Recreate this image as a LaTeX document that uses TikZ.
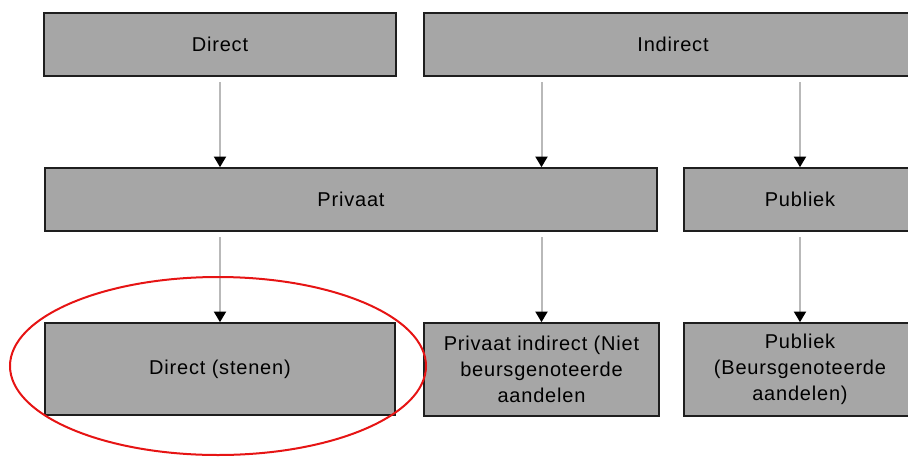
\documentclass[tikz,border=0pt]{standalone}
\usepackage{fontspec}
\setmainfont{Liberation Sans}[LetterSpace=4]
\usetikzlibrary{arrows.meta}
\definecolor{BoxGray}{RGB}{166, 166, 166}
\definecolor{EdgeDark}{RGB}{30, 30, 30}
\definecolor{LineGray}{RGB}{185, 185, 185}
\definecolor{MarkRed}{RGB}{230, 20, 20}

\begin{document}
\begin{tikzpicture}[x=0.75pt, y=-0.75pt,
    box/.style={draw=EdgeDark, line width=1.2pt, fill=BoxGray, inner sep=0pt, align=center,
                font=\fontsize{15}{19.5}\selectfont},
    arr/.style={draw=LineGray, line width=1.5pt, shorten <=4pt,
                -{Triangle[color=black, length=8pt, width=9pt]}}]
            \useasboundingbox (0,0) rectangle (908,458);
            \clip (0,0) rectangle (908,458);
            % Top row
            \node[box, minimum width=352*0.75pt, minimum height=63*0.75pt] (direct) at (220,44.5) {Direct};
            \node[box, minimum width=498*0.75pt, minimum height=63*0.75pt] (indirect) at (673,44.5) {Indirect};
            % Middle row
            \node[box, minimum width=612*0.75pt, minimum height=63*0.75pt] (privaat) at (351,199.5) {Privaat};
            \node[box, minimum width=232*0.75pt, minimum height=63*0.75pt] (publiek) at (800,199.5) {Publiek};
            
            % Bottom row
            \node[box, minimum width=350*0.75pt, minimum height=92*0.75pt] (stenen) at (220,369) {Direct (stenen)};
            \node[box, minimum width=235*0.75pt, minimum height=93*0.75pt] (privind) at (541.5,369.5) {Privaat indirect (Niet\\beursgenoteerde\\aandelen};
            \node[box, minimum width=232*0.75pt, minimum height=93*0.75pt] (publiekb) at (800,369.5) {Publiek\\(Beursgenoteerde\\aandelen)};
            
            % Arrows
            \draw[arr] (direct.south) -- (direct.south |- privaat.north);
            \draw[arr] (indirect.south -| privind) -- (privaat.north -| privind);
            \draw[arr] (indirect.south -| publiek) -- (publiek.north);
            \draw[arr] (privaat.south -| stenen) -- (stenen.north);
            \draw[arr] (privaat.south -| privind) -- (privind.north);
            \draw[arr] (publiek.south) -- (publiekb.north);
            
            % Highlight
            \draw[MarkRed, line width=1.5pt] ([xshift=-1.5pt,yshift=2.25pt]stenen.center) ellipse [x radius=208, y radius=89];
        \end{tikzpicture}
\end{document}
